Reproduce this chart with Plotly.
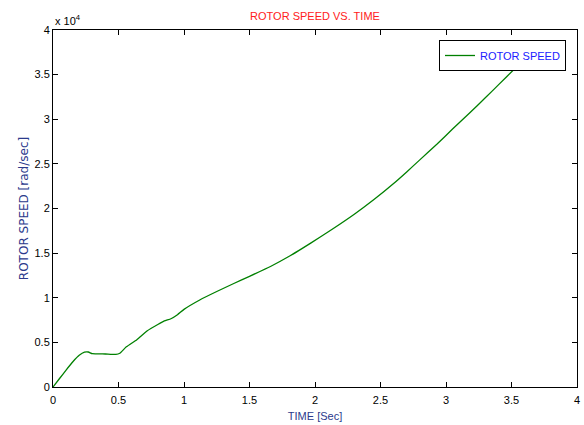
import plotly.graph_objects as go

# Rotor speed response (time in s, speed in rad/s)
time_s = [0, 0.05, 0.10, 0.15, 0.20, 0.24, 0.27, 0.30, 0.40, 0.48, 0.51,
          0.56, 0.64, 0.72, 0.80, 0.85, 0.90, 0.95, 1.00, 1.12, 1.25, 1.38,
          1.50, 1.66, 1.81, 1.90, 2.04, 2.14, 2.30, 2.45, 2.60, 2.70, 2.80,
          2.93, 3.05, 3.18, 3.30, 3.40, 3.53, 3.60]
speed_rad_s = [0, 950, 1900, 2800, 3550, 3900, 3920, 3730, 3700, 3650, 3780,
               4500, 5300, 6300, 7000, 7400, 7650, 8100, 8700, 9750, 10700,
               11600, 12400, 13500, 14700, 15500, 16800, 17750, 19350, 21000,
               22800, 24100, 25450, 27200, 28900, 30700, 32400, 33850, 35750,
               36800]

x_ticks = [0, 0.5, 1, 1.5, 2, 2.5, 3, 3.5, 4]
y_tick_vals = [0, 5000, 10000, 15000, 20000, 25000, 30000, 35000, 40000]
y_tick_text = ["0", "0.5", "1", "1.5", "2", "2.5", "3", "3.5", "4"]

FONT = "Liberation Sans, Arial, sans-serif"
WIDE_FONT = "DejaVu Sans, Verdana, sans-serif"

fig = go.Figure()
fig.add_trace(go.Scatter(
    x=time_s, y=speed_rad_s, mode="lines", name="ROTOR SPEED",
    line=dict(color="#008000", width=1.3, shape="spline", smoothing=0.4),
))

axis_common = dict(
    showgrid=False, zeroline=False, showline=True, linecolor="black",
    linewidth=1, mirror="ticks", ticks="inside", ticklen=5, tickcolor="black",
    tickfont=dict(family=FONT, size=11, color="black"), automargin=False,
)

fig.update_layout(
    width=584, height=425,
    margin=dict(l=53, r=7, t=30, b=38),
    paper_bgcolor="white", plot_bgcolor="white",
    showlegend=True,
    title=dict(text="ROTOR SPEED VS. TIME", x=(53 + 577) / 2 / 584, xanchor="center",
               y=1 - 16 / 425, yanchor="middle",
               font=dict(family=FONT, size=11, color="#ff2020")),
    xaxis=dict(range=[0, 4], tickvals=x_ticks, ticklabelstandoff=3,
               **axis_common,
               title=dict(text="TIME [Sec]", standoff=7,
                          font=dict(family=FONT, size=11, color="#2b3a8c"))),
    yaxis=dict(range=[0, 40000], tickvals=y_tick_vals, ticktext=y_tick_text,
               **axis_common,
               title=dict(text="ROTOR SPEED [rad/sec]", standoff=3,
                          font=dict(family=WIDE_FONT, size=12, color="#2b3a8c"))),
    legend=dict(x=0.979, y=0.972, xanchor="right", yanchor="top",
                bgcolor="white", bordercolor="black", borderwidth=1,
                font=dict(family=FONT, size=11, color="#2020ff"),
                itemwidth=30, tracegroupgap=0),
    annotations=[dict(text="x 10<sup>4</sup>", xref="paper", yref="paper",
                      x=0, y=1, xanchor="left", yanchor="bottom", yshift=1,
                      showarrow=False,
                      font=dict(family=FONT, size=11, color="black"))],
)

fig.write_html("out.html")
